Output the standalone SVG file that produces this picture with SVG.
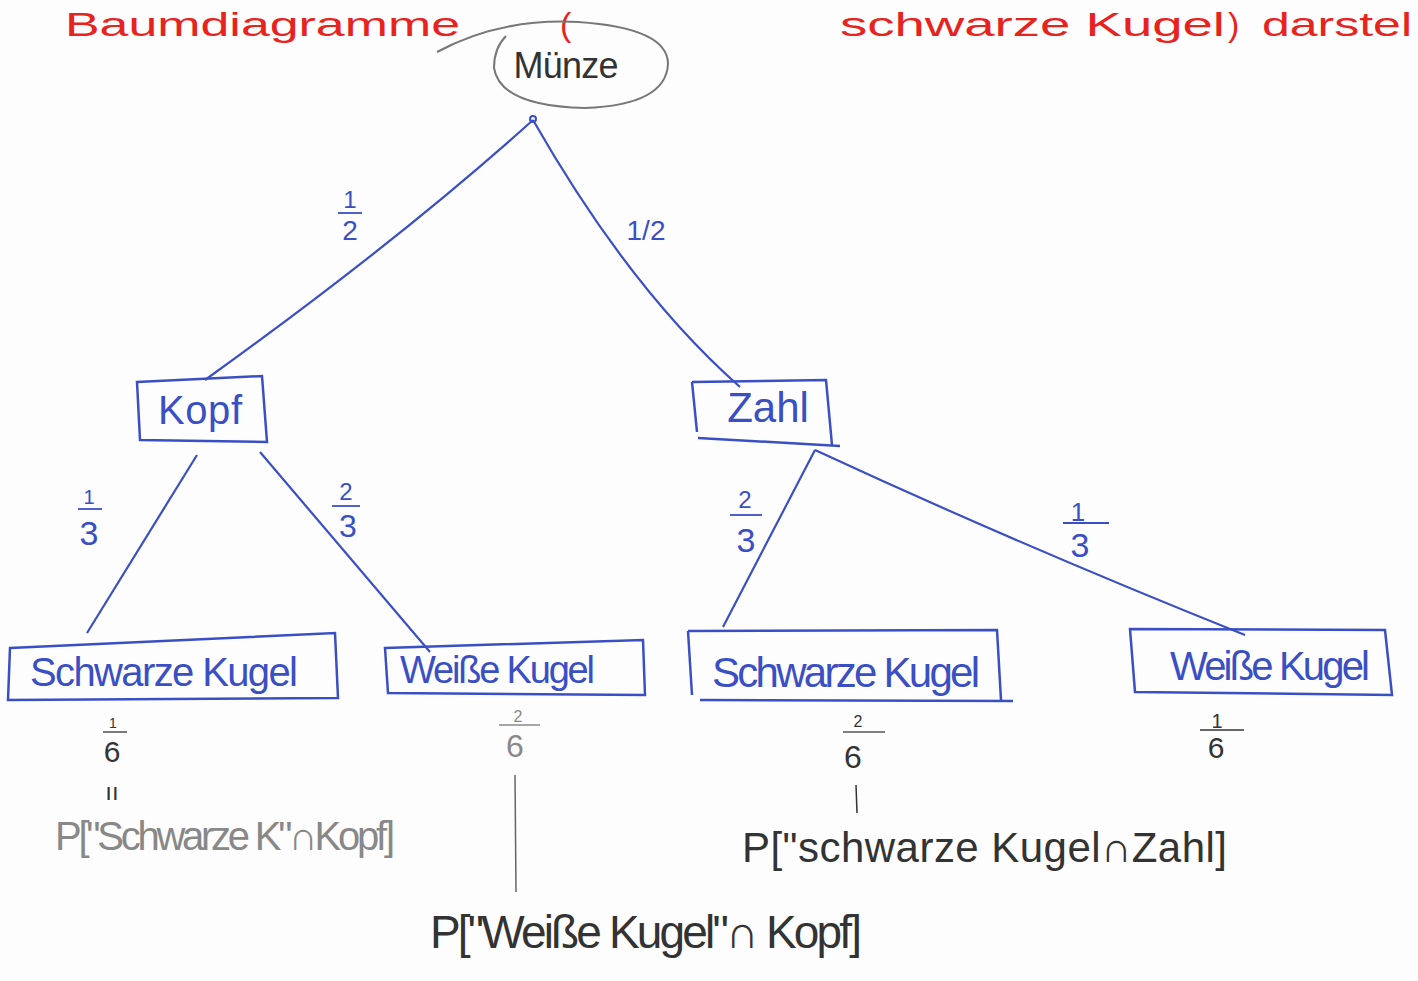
<svg xmlns="http://www.w3.org/2000/svg" width="1418" height="981" viewBox="0 0 1418 981">
<style>
.box{fill:none;stroke:#3a4fc4;stroke-width:2.5}
.edge{fill:none;stroke:#3a4fc4;stroke-width:2.2}
.lbl{font-family:"Liberation Sans",sans-serif;fill:#3a4fc4}
.blk{font-family:"Liberation Sans",sans-serif;fill:#333}
.gry{font-family:"Liberation Sans",sans-serif;fill:#888}
.red{font-family:"Liberation Sans",sans-serif;fill:#e8231e;font-size:34px}
.fr{stroke-width:1.8}
</style>
<rect width="1418" height="981" fill="#fdfdfd"/>
<g id="title">
<text class="red" x="65" y="36" textLength="395" lengthAdjust="spacingAndGlyphs">Baumdiagramme</text>
<text class="red" x="560" y="36">(</text>
<text class="red" x="840" y="36" textLength="385" lengthAdjust="spacingAndGlyphs">schwarze Kugel</text>
<text class="red" x="1228" y="36">)</text>
<text class="red" x="1262" y="36" textLength="150" lengthAdjust="spacingAndGlyphs">darstel</text>
</g>
<g id="connectors">
<path class="edge" d="M533,120 Q400,240 205,380"/>
<path class="edge" d="M533,120 Q630,290 740,387"/>
<path class="edge" d="M197,455 L87,633"/>
<path class="edge" d="M260,452 L430,652"/>
<path class="edge" d="M815,450 L723,627"/>
<path class="edge" d="M815,450 Q1020,545 1245,635"/>
<circle cx="533" cy="119" r="3" fill="none" stroke="#3a4fc4" stroke-width="2"/>
</g>
<g id="edge-labels">
<text class="lbl" x="350" y="208" font-size="24" text-anchor="middle">1</text>
<line x1="338" y1="213" x2="362" y2="213" stroke="#3a4fc4" class="fr"/>
<text class="lbl" x="350" y="240" font-size="28" text-anchor="middle">2</text>
<text class="lbl" x="646" y="240" font-size="28" text-anchor="middle">1/2</text>
<text class="lbl" x="89" y="504" font-size="20" text-anchor="middle">1</text>
<line x1="78" y1="509" x2="102" y2="509" stroke="#3a4fc4" class="fr"/>
<text class="lbl" x="89" y="545" font-size="34" text-anchor="middle">3</text>
<text class="lbl" x="346" y="500" font-size="24" text-anchor="middle">2</text>
<line x1="332" y1="506" x2="360" y2="506" stroke="#3a4fc4" class="fr"/>
<text class="lbl" x="348" y="537" font-size="32" text-anchor="middle">3</text>
<text class="lbl" x="745" y="508" font-size="24" text-anchor="middle">2</text>
<line x1="730" y1="515" x2="762" y2="515" stroke="#3a4fc4" class="fr"/>
<text class="lbl" x="746" y="552" font-size="34" text-anchor="middle">3</text>
<text class="lbl" x="1078" y="521" font-size="26" text-anchor="middle">1</text>
<line x1="1063" y1="523" x2="1109" y2="523" stroke="#3a4fc4" class="fr"/>
<text class="lbl" x="1080" y="557" font-size="34" text-anchor="middle">3</text>
</g>
<g id="n-muenze">
<path d="M437,52 Q500,18 578,22 Q668,28 668,64 Q666,105 585,108 Q500,106 494,68 Q494,48 506,36" fill="none" stroke="#777" stroke-width="2"/>
<text class="blk" x="566" y="78" font-size="36" text-anchor="middle" textLength="105">Münze</text>
</g>
<g id="n-kopf">
<path class="box" d="M137,382 L262,376 L267,442 L140,440 Z"/>
<text class="lbl" x="200" y="424" font-size="40" text-anchor="middle" textLength="84">Kopf</text>
</g>
<g id="n-zahl">
<path class="box" d="M692,382 L826,380 L832,445 M698,438 L840,446 M692,382 L697,432"/>
<text class="lbl" x="768" y="422" font-size="42" text-anchor="middle">Zahl</text>
</g>
<g id="n-schwarz-kopf">
<path class="box" d="M10,648 L335,633 L338,698 L8,700 Z"/>
<text class="lbl" x="30" y="686" font-size="40" textLength="268">Schwarze Kugel</text>
</g>
<g id="n-weiss-kopf">
<path class="box" d="M385,648 L643,640 L645,695 L388,693 Z"/>
<text class="lbl" x="400" y="683" font-size="38" textLength="195">Weiße Kugel</text>
</g>
<g id="n-schwarz-zahl">
<path class="box" d="M688,631 L997,630 L1001,700 M700,700 L1013,701 M688,631 L692,695"/>
<text class="lbl" x="712" y="687" font-size="42" textLength="268">Schwarze Kugel</text>
</g>
<g id="n-weiss-zahl">
<path class="box" d="M1130,629 L1385,630 L1392,695 L1135,692 Z"/>
<text class="lbl" x="1170" y="680" font-size="40" textLength="200">Weiße Kugel</text>
</g>
<g id="results">
<text class="blk" x="113" y="728" font-size="14" text-anchor="middle">1</text>
<line x1="103" y1="732" x2="127" y2="732" stroke="#333" stroke-width="1.3"/>
<text class="blk" x="112" y="762" font-size="30" text-anchor="middle">6</text>
<text class="blk" x="112" y="800" font-size="24" text-anchor="middle">ıı</text>
<text class="gry" x="518" y="722" font-size="16" text-anchor="middle">2</text>
<line x1="499" y1="725" x2="540" y2="725" stroke="#888" stroke-width="1.5"/>
<text class="gry" x="515" y="757" font-size="32" text-anchor="middle">6</text>
<line x1="515" y1="775" x2="516" y2="892" stroke="#666" stroke-width="1.5"/>
<text class="blk" x="858" y="727" font-size="16" text-anchor="middle">2</text>
<line x1="843" y1="732" x2="885" y2="732" stroke="#555" stroke-width="1.5"/>
<text class="blk" x="853" y="768" font-size="32" text-anchor="middle">6</text>
<line x1="856" y1="785" x2="857" y2="813" stroke="#333" stroke-width="1.5"/>
<line x1="1200" y1="730" x2="1244" y2="730" stroke="#333" stroke-width="1.5"/>
<text class="blk" x="1217" y="728" font-size="20" text-anchor="middle">1</text>
<text class="blk" x="1216" y="758" font-size="30" text-anchor="middle">6</text>
</g>
<g id="formulas">
<text class="gry" x="55" y="850" font-size="40" textLength="340">P["Schwarze K"∩Kopf]</text>
<text class="blk" x="430" y="948" font-size="46" textLength="432">P["Weiße Kugel"∩ Kopf]</text>
<text class="blk" x="742" y="862" font-size="42" textLength="485">P["schwarze Kugel∩Zahl]</text>
</g>
</svg>
